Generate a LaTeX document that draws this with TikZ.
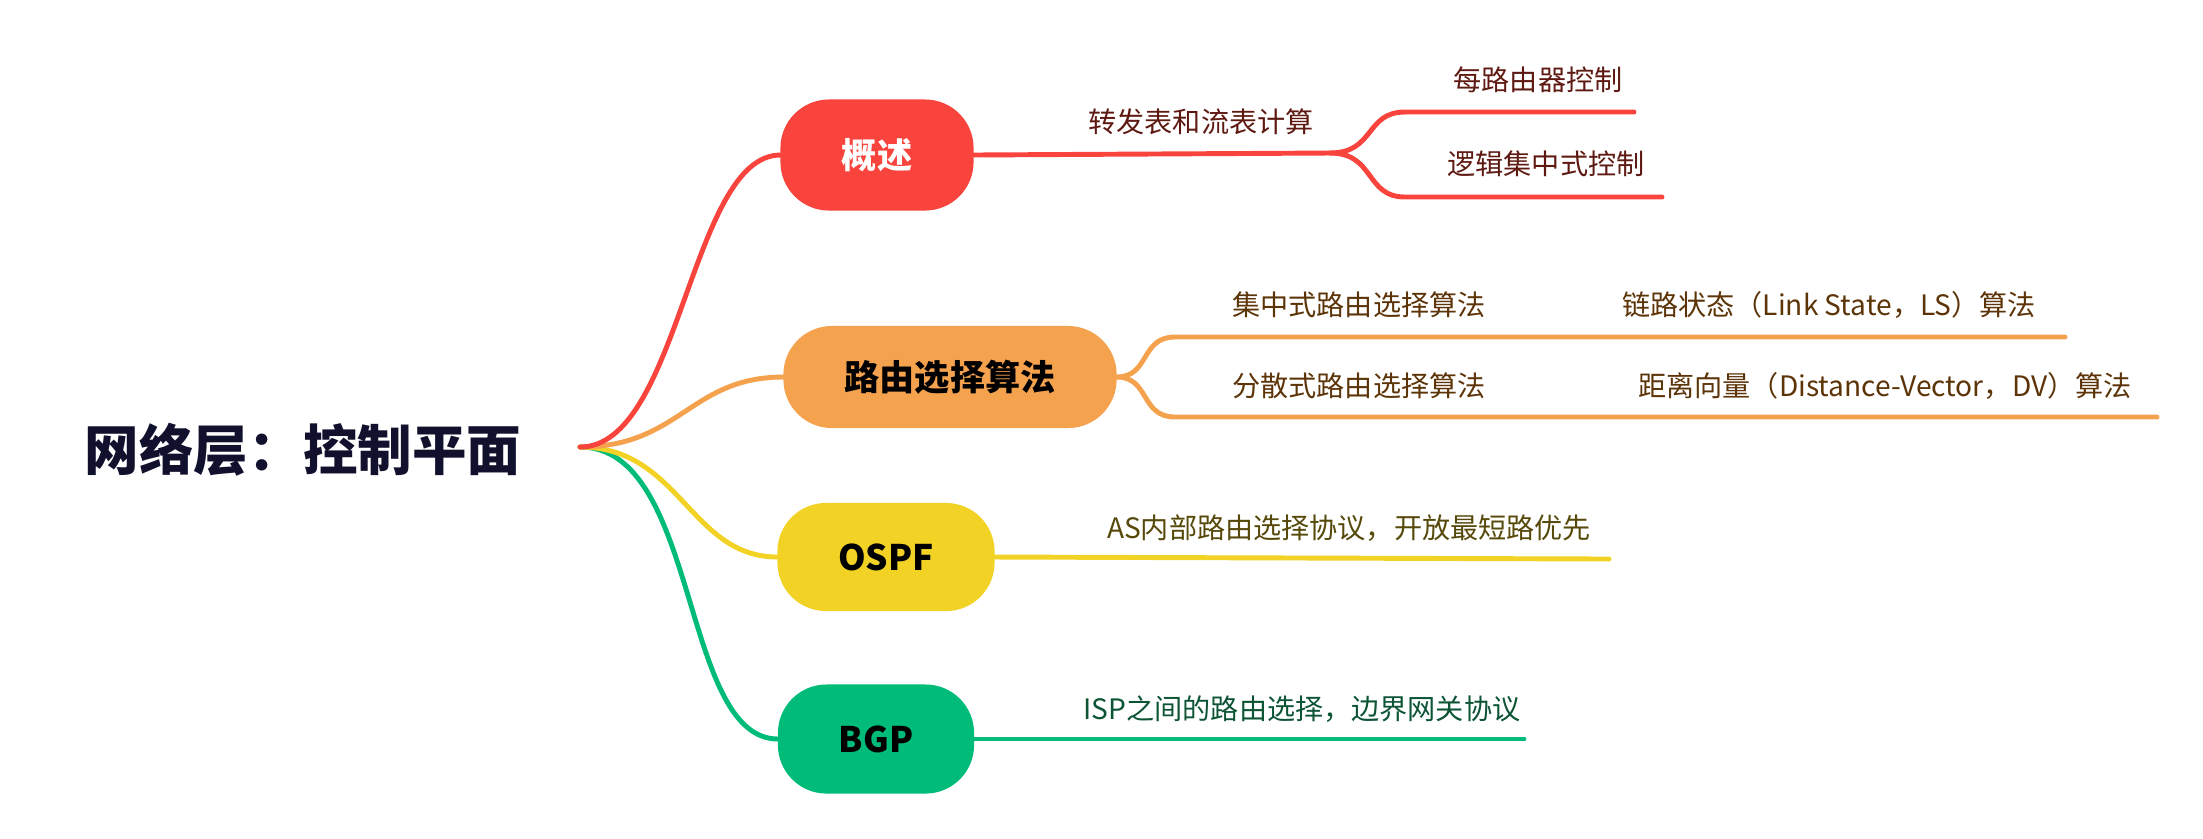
\documentclass[tikz,border=0pt]{standalone}
\usepackage{fontspec}
\newfontfamily\cjk{Noto Sans CJK SC}
\definecolor{cred}{HTML}{F8443C}
\definecolor{corange}{HTML}{F5A24E}
\definecolor{cyellow}{HTML}{F2D224}
\definecolor{cgreen}{HTML}{00BC78}
\definecolor{tred}{HTML}{5E1A12}
\definecolor{torange}{HTML}{5C3408}
\definecolor{tyellow}{HTML}{56490A}
\definecolor{tgreen}{HTML}{0C5434}
\definecolor{rootink}{HTML}{11112E}

\begin{document}
\begin{tikzpicture}[
  x=0.01cm, y=-0.01cm,
  line cap=round,
  branch/.style={line width=1.4pt},
  rootnode/.style={font=\cjk\bfseries\fontsize{15.5}{18}\selectfont, text=rootink},
  topic/.style={font=\cjk\bfseries\fontsize{10}{12}\selectfont, rounded corners=0.45cm,
    line width=2pt, inner sep=0pt},
  leaf/.style={font=\cjk\fontsize{8}{10}\selectfont, inner sep=1pt},
  ]
  \useasboundingbox (0,0) rectangle (2203,838);

  % central topic and hub
  \node[rootnode] (root) at (303,450) {网络层：控制平面};
  \coordinate (hub) at (580,447);

  % main topics
  \node[topic, fill=cred, draw=cred, text=white, minimum width=1.86cm, minimum height=1.04cm]
    (ov) at (877,155) {概述};
  \node[topic, fill=corange, draw=corange, text=black, minimum width=3.26cm, minimum height=0.95cm]
    (route) at (950,377) {路由选择算法};
  \node[topic, fill=cyellow, draw=cyellow, text=black, minimum width=2.10cm, minimum height=1.01cm]
    (ospf) at (886,557) {OSPF};
  \node[topic, fill=cgreen, draw=cgreen, text=black, minimum width=1.89cm, minimum height=1.02cm]
    (bgp) at (876,739) {BGP};

  % hub to topics
  \draw[branch, cgreen] (hub) .. controls (700,447) and (680,739) .. (bgp.west);
  \draw[branch, cyellow] (hub) .. controls (680,447) and (690,557) .. (ospf.west);
  \draw[branch, corange] (hub) .. controls (680,447) and (690,377) .. (route.west);
  \draw[branch, cred] (hub) .. controls (680,447) and (690,155) .. (ov.west);

  % overview branch
  \coordinate (ovj) at (1330,153);
  \coordinate (ovup) at (1405,112);
  \coordinate (ovupend) at (1634,112);
  \coordinate (ovlo) at (1405,197);
  \coordinate (ovloend) at (1662,197);
  \draw[branch, cred] (ov.east) -- (ovj);
  \draw[branch, cred] (ovj) .. controls (1375,153) and (1365,112) .. (ovup) -- (ovupend);
  \draw[branch, cred] (ovj) .. controls (1375,153) and (1365,197) .. (ovlo) -- (ovloend);
  \node[leaf, text=tred] (fwd) at (1201,122) {转发表和流表计算};
  \node[leaf, text=tred] (perr) at (1538,80) {每路由器控制};
  \node[leaf, text=tred] (logic) at (1546,164) {逻辑集中式控制};

  % routing algorithm branch
  \coordinate (rtup) at (1175,337);
  \coordinate (rtupj) at (1490,337);
  \coordinate (rtupend) at (2065,337);
  \coordinate (rtlo) at (1175,417);
  \coordinate (rtloj) at (1490,417);
  \coordinate (rtloend) at (2157,417);
  \draw[branch, corange] (route.east) .. controls (1150,377) and (1140,337) .. (rtup) -- (rtupj) -- (rtupend);
  \draw[branch, corange] (route.east) .. controls (1150,377) and (1140,417) .. (rtlo) -- (rtloj) -- (rtloend);
  \node[leaf, text=torange] (cent) at (1359,305) {集中式路由选择算法};
  \node[leaf, text=torange] (ls) at (1829,305) {链路状态（Link State，LS）算法};
  \node[leaf, text=torange] (decent) at (1359,386) {分散式路由选择算法};
  \node[leaf, text=torange] (dv) at (1885,386) {距离向量（Distance-Vector，DV）算法};

  % OSPF branch
  \coordinate (ospfend) at (1609,559);
  \draw[branch, cyellow] (ospf.east) -- (ospfend);
  \node[leaf, text=tyellow] (intra) at (1349,528) {AS内部路由选择协议，开放最短路优先};

  % BGP branch
  \coordinate (bgpend) at (1524,739);
  \draw[branch, cgreen] (bgp.east) -- (bgpend);
  \node[leaf, text=tgreen] (inter) at (1302,709) {ISP之间的路由选择，边界网关协议};
\end{tikzpicture}
\end{document}
